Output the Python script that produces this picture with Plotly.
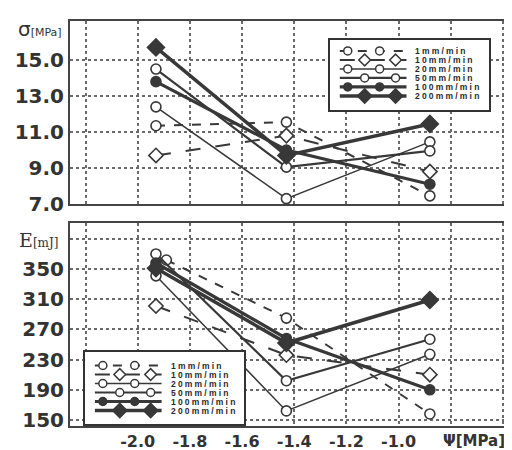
import plotly.graph_objects as go

# ---------------- data ----------------
series_names = ["1mm/min", "10mm/min", "20mm/min", "50mm/min", "100mm/min", "200mm/min"]

psi = [-1.93, -1.43, -0.88]          # water potential Ψ [MPa]
psi_e_1mm = [-1.89, -1.43, -0.88]    # 1mm/min first point slightly shifted in the E panel

sigma_1 = [11.35, 11.55, 7.45]
sigma_10 = [9.7, 10.8, 8.8]
sigma_20 = [12.4, 7.3, 10.45]
sigma_50 = [14.5, 9.05, 9.95]
sigma_100 = [13.8, 10.0, 8.1]
sigma_200 = [15.7, 9.7, 11.45]

energy_1 = [362, 285, 158]
energy_10 = [301, 236, 210]
energy_20 = [341, 162, 237]
energy_50 = [370, 202, 257]
energy_100 = [358, 258, 190]
energy_200 = [351, 252, 309]

x_tickvals = [-2.2, -2.0, -1.8, -1.6, -1.4, -1.2, -1.0, -0.8, -0.6]
x_ticktext = ["", "-2.0", "-1.8", "-1.6", "-1.4", "-1.2", "-1.0", "", ""]
sigma_ticks = [7.0, 9.0, 11.0, 13.0, 15.0]
sigma_ticktext = ["7.0", "9.0", "11.0", "13.0", "15.0"]
energy_ticks = [150, 190, 230, 270, 310, 350, 390]
energy_ticktext = ["150", "190", "230", "270", "310", "350", ""]

# ---------------- styles ----------------
INK = "#383838"
styles = [
    dict(dash="dash", width=2.0, symbol="circle", fill="white", size=10),
    dict(dash="longdash", width=2.0, symbol="diamond", fill="white", size=11),
    dict(dash="solid", width=1.5, symbol="circle", fill="white", size=10),
    dict(dash="solid", width=2.2, symbol="circle", fill="white", size=10),
    dict(dash="solid", width=3.2, symbol="circle", fill=INK, size=10),
    dict(dash="solid", width=3.5, symbol="diamond", fill=INK, size=13),
]

sigma_series = [sigma_1, sigma_10, sigma_20, sigma_50, sigma_100, sigma_200]
energy_series = [energy_1, energy_10, energy_20, energy_50, energy_100, energy_200]
energy_x = [psi_e_1mm, psi, psi, psi, psi, psi]

fig = go.Figure()


def add_series(xs, ys, st, name, xa, ya):
    fig.add_trace(go.Scatter(
        x=xs, y=ys, mode="lines+markers", name=name, showlegend=False,
        line=dict(color=INK, width=st["width"], dash=st["dash"]),
        marker=dict(symbol=st["symbol"], size=st["size"], color=st["fill"],
                    line=dict(color=INK, width=1.6)),
        xaxis=xa, yaxis=ya, hoverinfo="skip"))


for ys, st, nm in zip(sigma_series, styles, series_names):
    add_series(psi, ys, st, nm, "x", "y")
for xs, ys, st, nm in zip(energy_x, energy_series, styles, series_names):
    add_series(xs, ys, st, nm, "x2", "y2")

# ---------------- legends (inset boxes) ----------------
annotations = []
for (xa, ya) in [("x3", "y3"), ("x4", "y4")]:
    for i, (nm, st) in enumerate(zip(series_names, styles)):
        fig.add_trace(go.Scatter(
            x=[10, 77], y=[i, i], mode="lines", showlegend=False, hoverinfo="skip",
            line=dict(color=INK, width=st["width"], dash=st["dash"]),
            xaxis=xa, yaxis=ya))
        mx = [18, 50] if i % 2 == 0 else [35, 66]
        fig.add_trace(go.Scatter(
            x=mx, y=[i, i], mode="markers", showlegend=False, hoverinfo="skip",
            marker=dict(symbol=st["symbol"], size=st["size"] - 2, color=st["fill"],
                        line=dict(color=INK, width=1.5)),
            xaxis=xa, yaxis=ya))
        annotations.append(dict(
            x=85, y=i, xref=xa, yref=ya, xanchor="left", yanchor="middle",
            text='<span style="letter-spacing:2.2px">' + nm + '</span>',
            showarrow=False, borderpad=0,
            font=dict(family="Liberation Sans", size=8.5, color="#2a2a2a", weight="bold")))

# ---------------- layout ----------------
L, R, T, B = 62, 1, 13, 32
W, H = 512, 450
pw, ph = W - L - R, H - T - B


def px_x(p):
    return (p - L) / pw


def px_y(p):
    return (H - B - p) / ph


grid = dict(showgrid=True, gridcolor="#6a6a6a", griddash="dot", gridwidth=1.5,
            zeroline=False, showline=True, mirror=True, linecolor="#444", linewidth=2)
tickfont_y = dict(family="DejaVu Sans", size=20, color="#333", weight="bold")
tickfont_x = dict(family="DejaVu Sans", size=16, color="#333", weight="bold")

xr = [-2.2595, -0.546]

inset_axis = dict(showgrid=False, zeroline=False, showline=True, mirror=True,
                  linecolor="#333", linewidth=1.5, showticklabels=False, ticks="",
                  fixedrange=True)

fig.update_layout(
    width=W, height=H,
    margin=dict(l=L, r=R, t=T, b=B),
    paper_bgcolor="white", plot_bgcolor="white",
    showlegend=False,
    xaxis=dict(domain=[0, 1], range=xr, anchor="y", tickvals=x_tickvals,
               showticklabels=False, ticks="", **grid),
    yaxis=dict(domain=[px_y(196), 1], range=[7.0, 17.17], anchor="x",
               tickvals=sigma_ticks, ticktext=sigma_ticktext, tickfont=tickfont_y,
               ticks="", **grid),
    xaxis2=dict(domain=[0, 1], range=xr, anchor="y2", tickvals=x_tickvals,
                ticktext=x_ticktext, tickfont=tickfont_x, ticks="", **grid),
    yaxis2=dict(domain=[0, px_y(215)], range=[142, 411], anchor="x2",
                tickvals=energy_ticks, ticktext=energy_ticktext, tickfont=tickfont_y,
                ticks="", **grid),
    xaxis3=dict(domain=[px_x(323), px_x(483)], range=[0, 160], anchor="y3", **inset_axis),
    yaxis3=dict(domain=[px_y(102), px_y(32)], range=[6.56, -1.22], anchor="x3", **inset_axis),
    xaxis4=dict(domain=[px_x(77), px_x(237)], range=[0, 160], anchor="y4", **inset_axis),
    yaxis4=dict(domain=[px_y(416), px_y(344)], range=[6.5, -1.5], anchor="x4", **inset_axis),
)

annotations += [
    dict(x=px_x(8), y=px_y(21), xref="paper", yref="paper", xanchor="left",
         yanchor="middle", showarrow=False,
         text='σ<span style="font-size:11px">[MPa]</span>',
         font=dict(family="DejaVu Sans", size=20, color="#333")),
    dict(x=px_x(9), y=px_y(232), xref="paper", yref="paper", xanchor="left",
         yanchor="middle", showarrow=False,
         text='E<span style="font-size:12px">[mJ]</span>',
         font=dict(family="DejaVu Serif", size=19, color="#333")),
    dict(x=px_x(436), y=px_y(433), xref="paper", yref="paper", xanchor="left",
         yanchor="middle", showarrow=False, text="Ψ[MPa]", borderpad=0,
         font=dict(family="DejaVu Sans", size=15, color="#333", weight="bold")),
]
fig.update_layout(annotations=annotations)

fig.write_html("out.html")
